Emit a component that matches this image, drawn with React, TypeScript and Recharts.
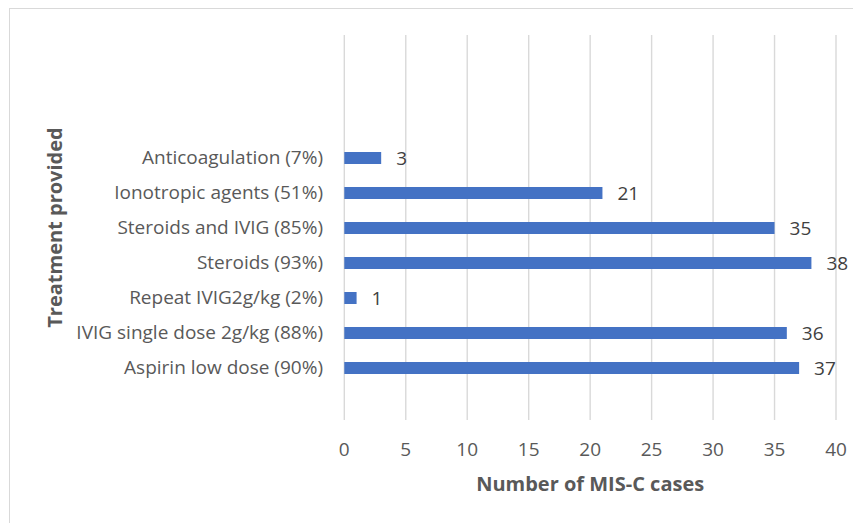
import React from "react";
import { BarChart, Bar, XAxis, YAxis, CartesianGrid, LabelList, Label } from "recharts";

const categories = [
  "Anticoagulation (7%)",
  "Ionotropic agents (51%)",
  "Steroids and IVIG (85%)",
  "Steroids (93%)",
  "Repeat IVIG2g/kg (2%)",
  "IVIG single dose 2g/kg (88%)",
  "Aspirin low dose (90%)",
];
const cases = [3, 21, 35, 38, 1, 36, 37];
const xTicks = [0, 5, 10, 15, 20, 25, 30, 35, 40];

const xTitle = "Number of MIS-C cases";
const yTitle = "Treatment provided";

const data = categories.map((name, i) => ({ name, cases: cases[i] }));

const FONT = "'Open Sans', sans-serif";
const TICK_SIZE = 19;
const TITLE_SIZE = 20;

const XTitle = (props: any) => {
  const vb = props.viewBox || {};
  return (
    <text
      x={vb.x + vb.width / 2}
      y={481.7}
      textAnchor="middle"
      fill="#595959"
      fontFamily={FONT}
      fontWeight={700}
      fontSize={TITLE_SIZE}
    >
      {xTitle}
    </text>
  );
};

const YTitle = (props: any) => {
  const vb = props.viewBox || {};
  const cx = 44.5;
  const cy = vb.y + vb.height / 2;
  return (
    <text
      x={cx}
      y={cy}
      dy="0.35em"
      transform={`rotate(-90, ${cx}, ${cy})`}
      textAnchor="middle"
      fill="#595959"
      fontFamily={FONT}
      fontWeight={700}
      fontSize={TITLE_SIZE}
    >
      {yTitle}
    </text>
  );
};

export default function App() {
  return (
    <div>
      <style>{`html,body{overflow:hidden}`}</style>
      <div
        style={{
          marginLeft: 1,
          width: 852,
          height: 514,
          borderTop: "1px solid #d9d9d9",
          borderLeft: "1px solid #d9d9d9",
          background: "#fff",
        }}
      >
        <BarChart
          width={851}
          height={514}
          data={data}
          layout="vertical"
          margin={{ top: 26, right: 25, bottom: 0, left: 0 }}
          barCategoryGap={0}
        >
          <CartesianGrid horizontal={false} stroke="#d9d9d9" strokeWidth={1.4} />
          <XAxis
            type="number"
            domain={[0, 40]}
            ticks={xTicks}
            interval={0}
            axisLine={false}
            tickLine={false}
            tickSize={0}
            tickMargin={23}
            height={103}
            tick={{ fill: "#595959", fontSize: TICK_SIZE, fontFamily: FONT }}
          >
            <Label content={<XTitle />} />
          </XAxis>
          <YAxis
            type="category"
            dataKey="name"
            width={334.3}
            interval={0}
            axisLine={false}
            tickLine={false}
            tickSize={0}
            tickMargin={21.3}
            padding={{ top: 105, bottom: 35 }}
            tick={{ fill: "#595959", fontSize: TICK_SIZE, fontFamily: FONT }}
          >
            <Label content={<YTitle />} />
          </YAxis>
          <Bar dataKey="cases" fill="#4472C4" barSize={12} isAnimationActive={false}>
            <LabelList
              dataKey="cases"
              position="right"
              offset={15}
              fill="#404040"
              fontSize={TICK_SIZE}
              fontFamily={FONT}
            />
          </Bar>
        </BarChart>
      </div>
    </div>
  );
}
